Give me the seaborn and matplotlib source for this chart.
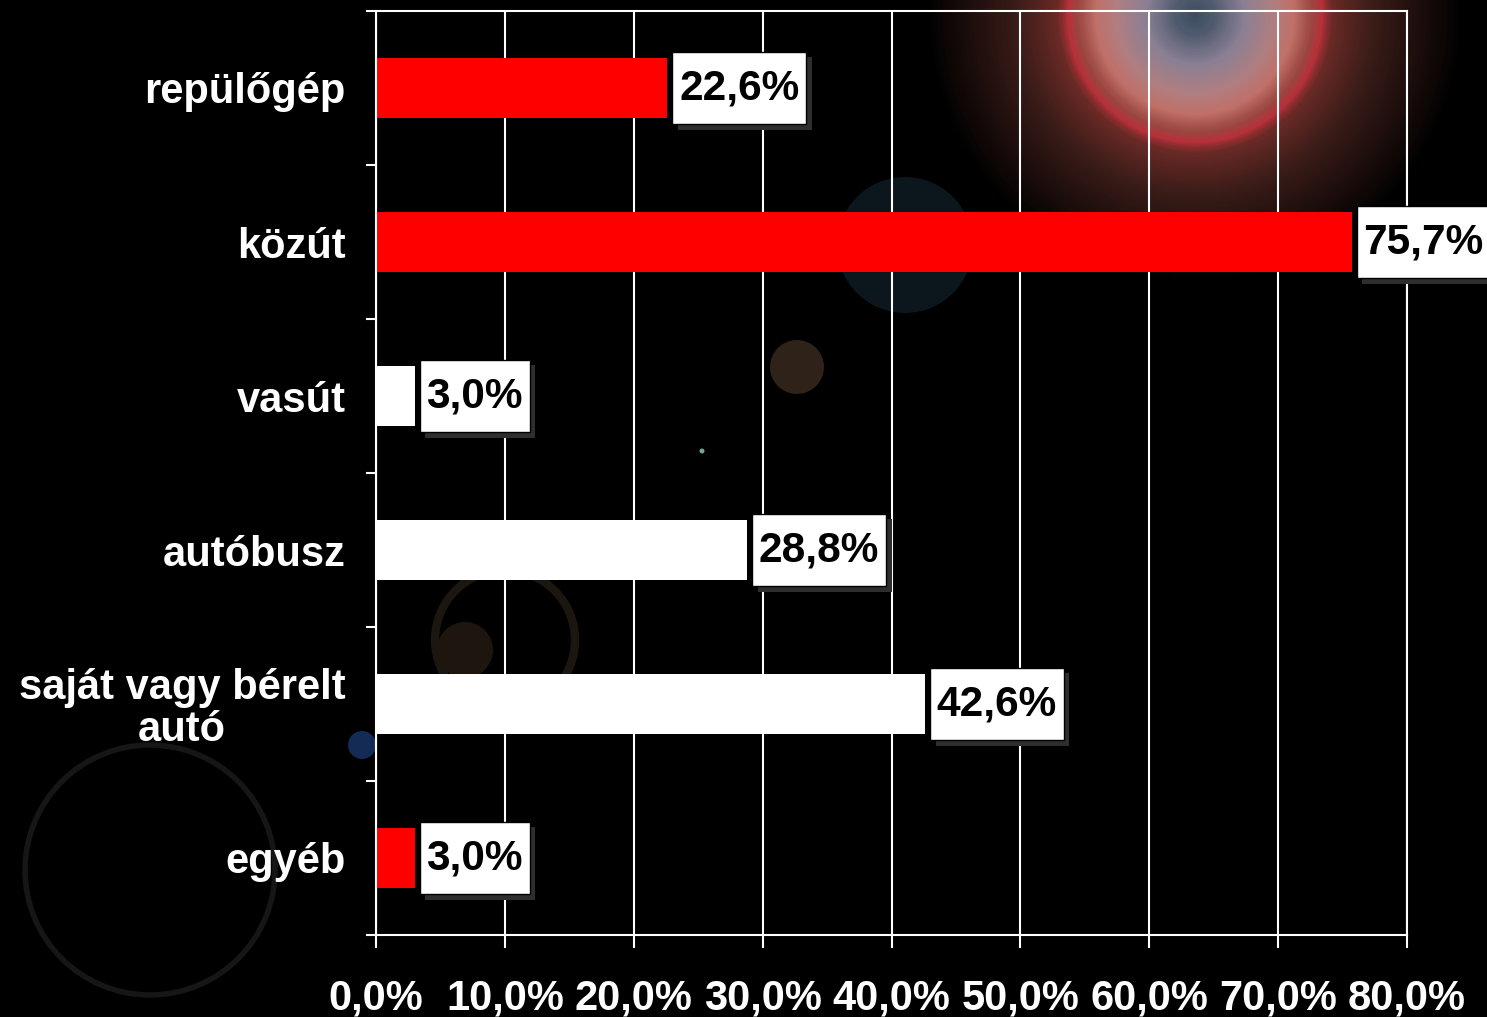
import matplotlib.pyplot as plt
import matplotlib.patheffects as pe
from matplotlib.patches import Circle
from matplotlib.path import Path
from matplotlib.colors import LinearSegmentedColormap
import seaborn as sns
import pandas as pd
import numpy as np

# data
categories = ["repülőgép", "közút", "vasút", "autóbusz", "saját vagy bérelt\nautó", "egyéb"]
shares = [22.6, 75.7, 3.0, 28.8, 42.6, 3.0]
bar_colors = ["#ff0000", "#ff0000", "#ffffff", "#ffffff", "#ffffff", "#ff0000"]
x_ticks = [0, 10, 20, 30, 40, 50, 60, 70, 80]
x_ticklabels = ["0,0%", "10,0%", "20,0%", "30,0%", "40,0%", "50,0%", "60,0%", "70,0%", "80,0%"]

df = pd.DataFrame({"kategoria": categories, "arany": shares})

sns.set_style("dark")
plt.rcParams["font.family"] = ["Liberation Sans", "DejaVu Sans"]
plt.rcParams["font.weight"] = "bold"

fig = plt.figure(figsize=(14.87, 10.17), dpi=100, facecolor="black")

## backdrop: soft lens-flare blobs like the slide background (pure decoration)
bg = fig.add_axes([0, 0, 1, 1], zorder=0)
bg.set_xlim(0, 1487)
bg.set_ylim(1017, 0)
bg.axis("off")
flare_r = 270
flare = LinearSegmentedColormap.from_list("flare", [
    (0.000, "#3c4c5e"), (0.074, "#4f5a6e"), (0.185, "#8a7f94"), (0.296, "#b07e80"),
    (0.370, "#c07068"), (0.437, "#9a4640"), (0.474, "#b8303a"), (0.511, "#6a2a26"),
    (0.667, "#3a1c18"), (1.000, "#000000")])
for r in np.arange(flare_r, 0, -2):
    bg.add_patch(Circle((1195, 15), r, color=flare(r / flare_r), lw=0))
bg.add_patch(Circle((905, 245), 68, color="#0b161d", lw=0))
bg.add_patch(Circle((797, 367), 27, color="#2e2219", lw=0))
bg.add_patch(Circle((505, 640), 70, fill=False, ec="#1c1610", lw=6))
bg.add_patch(Circle((465, 650), 28, color="#1e160e", lw=0))
bg.add_patch(Circle((150, 870), 125, fill=False, ec="#161616", lw=4))
bg.add_patch(Circle((362, 745), 14, color="#142c55", lw=0))
bg.add_patch(Circle((702, 451), 2.5, color="#6fa59a", lw=0))

ax = fig.add_axes([376 / 1487, 1 - 935 / 1017, (1407 - 376) / 1487, (935 - 11) / 1017], zorder=1)
ax.patch.set_alpha(0)

sns.barplot(data=df, x="arany", y="kategoria", hue="kategoria", palette=bar_colors,
            legend=False, width=0.39, saturation=1, ax=ax, edgecolor="none")

ax.set_xlim(0, 80)
ax.set_ylim(len(categories) - 0.5, -0.5)

# grid lines on the x ticks
ax.set_xticks(x_ticks)
ax.set_xticklabels(x_ticklabels, fontsize=30, fontweight="bold", color="white")
ax.xaxis.grid(True, color="white", linewidth=1.5)
ax.yaxis.grid(False)
ax.set_axisbelow(True)
ax.tick_params(axis="x", bottom=True, direction="out", length=9, width=1.5, color="white", pad=22)

# category labels at bar centres, tick marks on the boundaries
ax.set_yticks(range(len(categories)))
ax.set_yticklabels(categories, fontsize=30, fontweight="bold", color="white", ha="right",
                   multialignment="center", linespacing=1.05)
ax.tick_params(axis="y", which="major", left=True, length=0, pad=22)
ax.set_yticks(np.arange(-0.5, len(categories), 1), minor=True)
ax.tick_params(axis="y", which="minor", left=True, direction="out", length=7.5, width=1.5, color="white")

for s in ax.spines.values():
    s.set_color("white")
    s.set_linewidth(1.5)

ax.set_xlabel("")
ax.set_ylabel("")


## taller-than-wide padding for the value boxes
def value_box(x0, y0, width, height, mutation_size):
    px = 0.16 * mutation_size
    py = 0.38 * mutation_size
    x0, y0 = x0 - px, y0 - py
    x1, y1 = x0 + width + 2 * px, y0 + height + 2 * py
    return Path([(x0, y0), (x1, y0), (x1, y1), (x0, y1), (x0, y0)], closed=True)


# value labels in white boxes with a drop shadow
for i, v in enumerate(shares):
    t = ax.annotate(f"{v:.1f}%".replace(".", ","), xy=(v, i), xytext=(8.5, 0),
                    textcoords="offset points", ha="left", va="center",
                    fontsize=30.5, fontweight="bold", color="black",
                    bbox=dict(boxstyle=value_box, facecolor="white", edgecolor="black", linewidth=1))
    t.get_bbox_patch().set_path_effects([
        pe.SimplePatchShadow(offset=(4, -4), shadow_rgbFace="#2e2e2e", alpha=1),
        pe.Normal(),
    ])

fig.savefig("out.png", dpi=100, facecolor="black")
